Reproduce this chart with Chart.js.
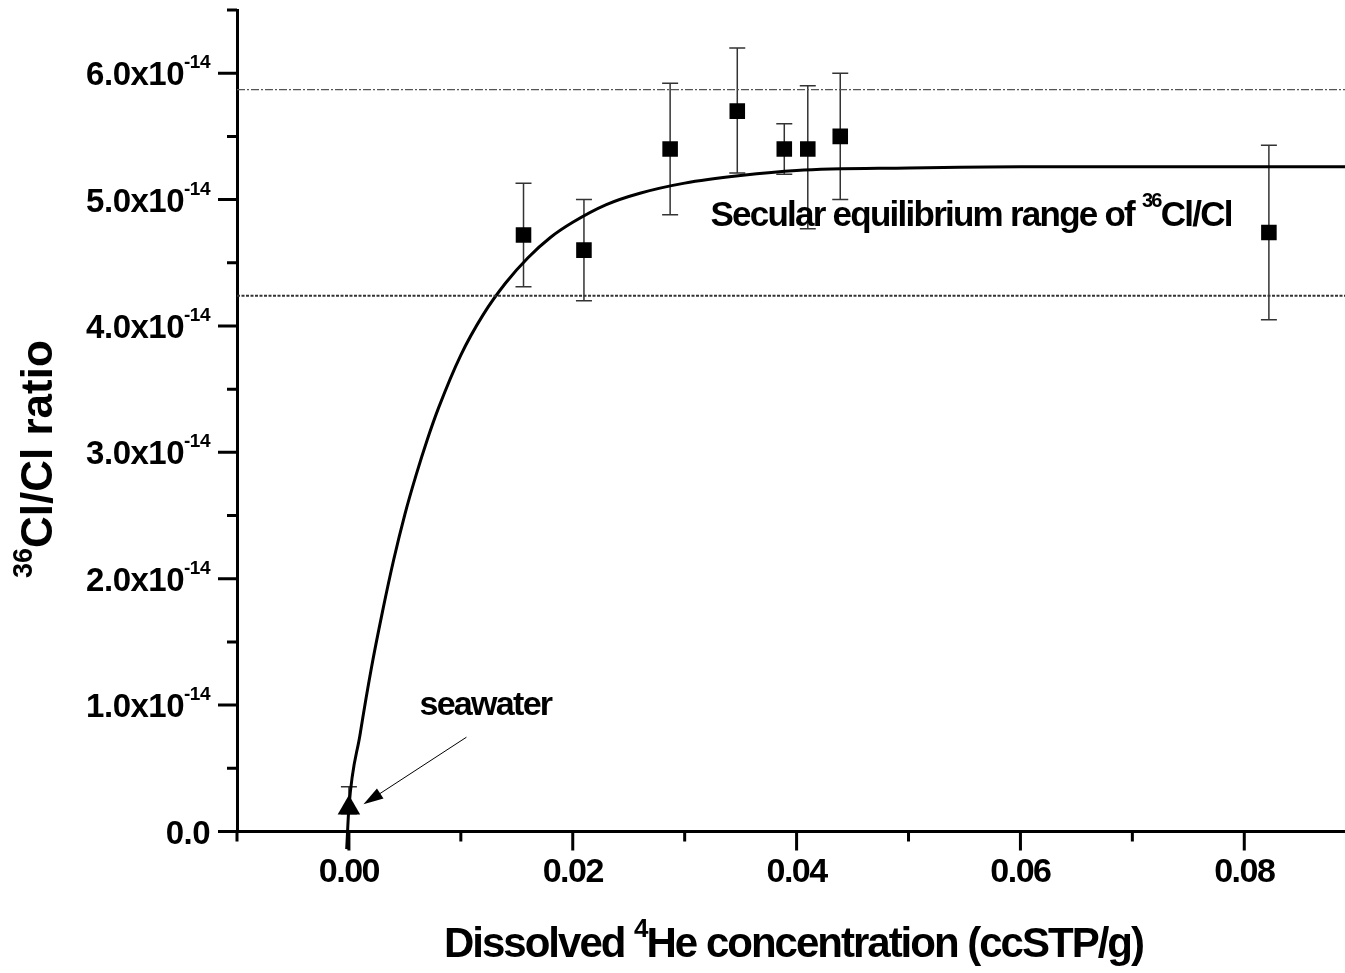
<!DOCTYPE html>
<html>
<head>
<meta charset="utf-8">
<script src="https://cdn.jsdelivr.net/npm/chart.js@4.4.1/dist/chart.umd.min.js"></script>
<style>
  html, body { margin: 0; padding: 0; background: #fff; overflow: hidden; }
  canvas { display: block; }
</style>
</head>
<body>
<canvas id="chart" width="1345" height="973"></canvas>
<script>
// dissolved 4He (ccSTP/g) and 36Cl/Cl ratio (units of 1e-14)
const heConc   = [0.0156, 0.0210, 0.0287, 0.0347, 0.0389, 0.0410, 0.0439, 0.0822];
const clRatio  = [4.72, 4.60, 5.40, 5.70, 5.40, 5.40, 5.50, 4.74];
const errHigh  = [5.13, 5.00, 5.92, 6.20, 5.60, 5.90, 6.00, 5.43];
const errLow   = [4.31, 4.20, 4.88, 5.21, 5.20, 4.77, 5.00, 4.05];

// seawater end member
const seaX = [0.0];
const seaY = [0.186];
const seaHigh = [0.355];
const seaLow = [0.14];

// fitted growth curve
const curveX = [-0.0002, 0, 0.001, 0.002, 0.003, 0.004, 0.005, 0.006, 0.007, 0.008, 0.010, 0.012, 0.014,
                0.016, 0.018, 0.020, 0.023, 0.026, 0.030, 0.035, 0.040, 0.050, 0.060, 0.070, 0.080, 0.089];
const curveY = [-0.14, 0.19, 0.77, 1.29, 1.74, 2.15, 2.51, 2.82, 3.10, 3.35, 3.77, 4.09, 4.34,
                4.54, 4.70, 4.82, 4.96, 5.05, 5.13, 5.19, 5.23, 5.25, 5.26, 5.26, 5.26, 5.26];

// secular equilibrium band
const eqUpper = 5.87;
const eqLower = 4.24;

const xMajor = [0, 0.02, 0.04, 0.06, 0.08];
const xMinor = [-0.01, 0.01, 0.03, 0.05, 0.07];
const xLabels = ['0.00', '0.02', '0.04', '0.06', '0.08'];
const yMajor = [0, 1, 2, 3, 4, 5, 6];
const yMinor = [0.5, 1.5, 2.5, 3.5, 4.5, 5.5, 6.5];

const FONT = '"Liberation Sans", Arial, sans-serif';

function setFont(ctx, size, spacing) {
    ctx.font = 'bold ' + size + 'px ' + FONT;
    ctx.letterSpacing = (spacing || 0) + 'px';
}

// parts: [text, isSup]
function richWidth(ctx, parts, size, supSize, spacing) {
    let w = 0;
    parts.forEach(([t, sup]) => {
        setFont(ctx, sup ? supSize : size, spacing);
        w += ctx.measureText(t).width;
    });
    return w;
}

function drawRich(ctx, parts, x, y, size, supSize, supRise, spacing) {
    let cx = x;
    ctx.textAlign = 'left';
    ctx.textBaseline = 'alphabetic';
    parts.forEach(([t, sup]) => {
        setFont(ctx, sup ? supSize : size, spacing);
        ctx.fillText(t, cx, sup ? y - supRise : y);
        cx += ctx.measureText(t).width;
    });
}

const decorations = {
    id: 'decorations',
    beforeDatasetsDraw(chart) {
        const { ctx, scales: { x, y } } = chart;
        ctx.save();
        ctx.strokeStyle = '#333';
        ctx.lineWidth = 1.5;
        const bar = (xs, hi, lo) => {
            xs.forEach((v, i) => {
                const px = x.getPixelForValue(v);
                const t = y.getPixelForValue(hi[i]);
                const b = y.getPixelForValue(lo[i]);
                ctx.beginPath();
                ctx.moveTo(px, t); ctx.lineTo(px, b);
                ctx.moveTo(px - 8, t); ctx.lineTo(px + 8, t);
                ctx.moveTo(px - 8, b); ctx.lineTo(px + 8, b);
                ctx.stroke();
            });
        };
        bar(heConc, errHigh, errLow);
        bar(seaX, seaHigh, seaLow);
        ctx.restore();
    },
    afterDraw(chart) {
        const { ctx, scales: { x, y }, chartArea } = chart;
        ctx.save();
        ctx.fillStyle = '#000';
        ctx.strokeStyle = '#000';
        ctx.lineWidth = 3;

        // ticks
        ctx.beginPath();
        yMajor.forEach(v => { const p = y.getPixelForValue(v); ctx.moveTo(chartArea.left, p); ctx.lineTo(chartArea.left - 19, p); });
        yMinor.forEach(v => { const p = y.getPixelForValue(v); ctx.moveTo(chartArea.left, p); ctx.lineTo(chartArea.left - 10, p); });
        xMajor.forEach(v => { const p = x.getPixelForValue(v); ctx.moveTo(p, chartArea.bottom); ctx.lineTo(p, chartArea.bottom + 19); });
        xMinor.forEach(v => { const p = x.getPixelForValue(v); ctx.moveTo(p, chartArea.bottom); ctx.lineTo(p, chartArea.bottom + 10); });
        ctx.stroke();

        // y tick labels
        const right = chartArea.left - 27;
        yMajor.forEach(v => {
            const p = y.getPixelForValue(v);
            if (v === 0) {
                setFont(ctx, 33, -0.5);
                ctx.textAlign = 'right';
                ctx.textBaseline = 'alphabetic';
                ctx.fillText('0.0', right, p + 12);
                return;
            }
            const parts = [[v.toFixed(1) + 'x10', false], ['-14', true]];
            const w = richWidth(ctx, parts, 33, 19, -0.5);
            drawRich(ctx, parts, right - w, p + 12, 33, 19, 17, -0.5);
        });

        // x tick labels
        xMajor.forEach((v, i) => {
            const p = x.getPixelForValue(v);
            setFont(ctx, 34, -1.5);
            ctx.textAlign = 'center';
            ctx.textBaseline = 'alphabetic';
            ctx.fillText(xLabels[i], p, 882);
        });

        // axis titles
        drawRich(ctx, [['Dissolved ', false], ['4', true], ['He concentration (ccSTP/g)', false]],
                 444, 957, 42, 26, 20, -2);

        ctx.save();
        ctx.translate(52, 578);
        ctx.rotate(-Math.PI / 2);
        drawRich(ctx, [['36', true], ['Cl/Cl ratio', false]], 0, 0, 44, 27, 20, 0);
        ctx.restore();

        // annotations
        drawRich(ctx, [['Secular equilibrium range of ', false], ['36', true], ['Cl/Cl', false]],
                 x.getPixelForValue(0.0323), y.getPixelForValue(4.79), 35, 20, 19, -1.75);
        drawRich(ctx, [['seawater', false]], x.getPixelForValue(0.0063), y.getPixelForValue(0.92), 34, 20, 0, -1.7);

        // arrow to seawater point
        const ax0 = x.getPixelForValue(0.0105), ay0 = y.getPixelForValue(0.746);
        const ax1 = x.getPixelForValue(0.0013), ay1 = y.getPixelForValue(0.215);
        const ang = Math.atan2(ay1 - ay0, ax1 - ax0);
        ctx.lineWidth = 1;
        ctx.beginPath();
        ctx.moveTo(ax0, ay0);
        ctx.lineTo(ax1 - Math.cos(ang) * 14, ay1 - Math.sin(ang) * 14);
        ctx.stroke();
        ctx.beginPath();
        ctx.moveTo(ax1, ay1);
        ctx.lineTo(ax1 - Math.cos(ang) * 20 + Math.sin(ang) * 6, ay1 - Math.sin(ang) * 20 - Math.cos(ang) * 6);
        ctx.lineTo(ax1 - Math.cos(ang) * 20 - Math.sin(ang) * 6, ay1 - Math.sin(ang) * 20 + Math.cos(ang) * 6);
        ctx.closePath();
        ctx.fill();

        ctx.restore();
    }
};

const ctx = document.getElementById('chart').getContext('2d');
new Chart(ctx, {
    type: 'scatter',
    data: {
        datasets: [
            {
                data: [{ x: -0.01, y: eqUpper }, { x: 0.089, y: eqUpper }],
                showLine: true, pointRadius: 0,
                borderColor: '#555', borderWidth: 1.2, borderDash: [8, 2, 2, 2]
            },
            {
                data: [{ x: -0.01, y: eqLower }, { x: 0.089, y: eqLower }],
                showLine: true, pointRadius: 0,
                borderColor: '#333', borderWidth: 2, borderDash: [3, 1.5]
            },
            {
                data: curveX.map((v, i) => ({ x: v, y: curveY[i] })),
                showLine: true, pointRadius: 0,
                borderColor: '#000', borderWidth: 3,
                cubicInterpolationMode: 'monotone',
                clip: { left: 0, top: 0, right: 0, bottom: 30 }
            },
            {
                data: heConc.map((v, i) => ({ x: v, y: clRatio[i] })),
                pointStyle: 'rect', pointRadius: 11,
                backgroundColor: '#000', borderColor: '#000', borderWidth: 0
            },
            {
                data: seaX.map((v, i) => ({ x: v, y: seaY[i] })),
                pointStyle: 'triangle', pointRadius: 13,
                backgroundColor: '#000', borderColor: '#000', borderWidth: 0,
                clip: false
            }
        ]
    },
    options: {
        responsive: false,
        animation: false,
        layout: { autoPadding: false, padding: { top: 10, left: 0, right: 0, bottom: 0 } },
        plugins: { legend: { display: false }, tooltip: { enabled: false } },
        scales: {
            x: {
                type: 'linear', min: -0.01, max: 0.089,
                grid: { display: false, drawTicks: false },
                ticks: { display: false },
                border: { display: true, width: 3, color: '#000' },
                afterFit: s => { s.height = 141.5; }
            },
            y: {
                type: 'linear', min: 0, max: 6.5,
                grid: { display: false, drawTicks: false },
                ticks: { display: false },
                border: { display: true, width: 3, color: '#000' },
                afterFit: s => { s.width = 237; }
            }
        }
    },
    plugins: [decorations]
});
</script>
</body>
</html>
